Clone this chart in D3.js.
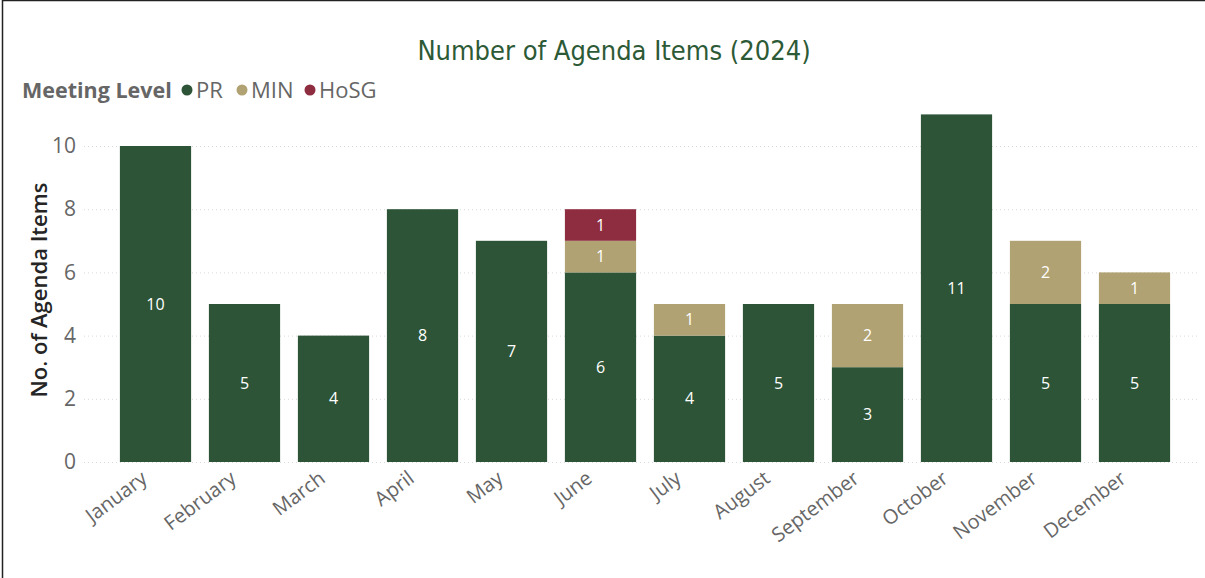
<!DOCTYPE html>
<html>
<head>
<meta charset="utf-8">
<script src="https://cdn.jsdelivr.net/npm/d3@7"></script>
<style>
  body { margin: 0; background: #fff; }
  .container { width: 1205px; height: 578px; }
</style>
</head>
<body>
<div class="container"></div>
<script>
const size = { width: 1205, height: 578 };

const months = ["January", "February", "March", "April", "May", "June",
                "July", "August", "September", "October", "November", "December"];
const levels = ["PR", "MIN", "HoSG"];
const pr   = [10, 5, 4, 8, 7, 6, 4, 5, 3, 11, 5, 5];
const min  = [0, 0, 0, 0, 0, 1, 1, 0, 2, 0, 2, 1];
const hosg = [0, 0, 0, 0, 0, 1, 0, 0, 0, 0, 0, 0];
const yTicks = [0, 2, 4, 6, 8, 10];
const colores = ["#2d5436", "#b0a272", "#8f2d40"];

const font = "'Open Sans', 'Noto Sans', sans-serif";

const svg = d3.select(".container")
              .append("svg")
              .attr("width", size.width)
              .attr("height", size.height);

// marco
svg.append("rect")
   .attr("x", 2.5).attr("y", 0.5)
   .attr("width", size.width + 10).attr("height", size.height + 10)
   .attr("fill", "none").attr("stroke", "#222").attr("stroke-width", 1.5);

const datos = months.map((m, i) => ({ month: m, PR: pr[i], MIN: min[i], HoSG: hosg[i] }));
const series = d3.stack().keys(levels)(datos);

const x = d3.scaleBand().domain(months).range([111, 1179]).paddingInner(0.2).paddingOuter(0.1);
const y = d3.scaleLinear().domain([0, 10]).range([462, 146]);
const color = d3.scaleOrdinal().domain(levels).range(colores);

// grid
svg.append("g")
   .selectAll("line")
   .data(yTicks)
   .join("line")
   .attr("x1", 84).attr("x2", 1200)
   .attr("y1", d => y(d) + 0.5).attr("y2", d => y(d) + 0.5)
   .attr("stroke", "#d9d9d9")
   .attr("stroke-dasharray", "1,3");

// eje y
const ejeY = svg.append("g")
   .attr("transform", "translate(76,0)")
   .call(d3.axisLeft(y).tickValues(yTicks).tickSize(0).tickPadding(0));
ejeY.select(".domain").remove();
ejeY.selectAll("text")
    .attr("font-family", font).attr("font-size", 21).attr("fill", "#666");

svg.append("text")
   .attr("transform", "translate(47,290) rotate(-90)")
   .attr("text-anchor", "middle")
   .attr("font-family", font).attr("font-size", 22).attr("font-weight", 600)
   .attr("fill", "#252525")
   .text("No. of Agenda Items");

// barras
const capas = svg.append("g")
   .selectAll("g")
   .data(series)
   .join("g")
   .attr("fill", d => color(d.key));

capas.selectAll("rect")
   .data(d => d)
   .join("rect")
   .attr("x", d => x(d.data.month))
   .attr("width", x.bandwidth())
   .attr("y", d => y(d[1]))
   .attr("height", d => y(d[0]) - y(d[1]));

capas.selectAll("text")
   .data(d => d.filter(v => v[1] - v[0] > 0))
   .join("text")
   .attr("x", d => x(d.data.month) + x.bandwidth() / 2)
   .attr("y", d => (y(d[0]) + y(d[1])) / 2)
   .attr("dy", "0.35em")
   .attr("text-anchor", "middle")
   .attr("font-family", font).attr("font-size", 16)
   .attr("fill", "#fff")
   .text(d => d[1] - d[0]);

// eje x
svg.append("g")
   .selectAll("text")
   .data(months)
   .join("text")
   .attr("transform", d => `translate(${x(d) + x.bandwidth() / 2 - 7},${481}) rotate(-37)`)
   .attr("text-anchor", "end")
   .attr("font-family", font).attr("font-size", 20)
   .attr("fill", "#666")
   .text(d => d);

// titulo
svg.append("text")
   .attr("x", 614).attr("y", 60)
   .attr("text-anchor", "middle")
   .attr("font-family", "'DejaVu Sans Condensed', 'DejaVu Sans', sans-serif")
   .attr("font-size", 27)
   .attr("fill", "#2d5a36")
   .text("Number of Agenda Items (2024)");

// leyenda
const leyenda = svg.append("g").attr("font-family", font);
leyenda.append("text")
   .attr("x", 22).attr("y", 98)
   .attr("font-size", 21.5).attr("font-weight", 700).attr("fill", "#666")
   .text("Meeting Level");

const posLeyenda = [187, 242, 310];
const items = leyenda.selectAll("g.item")
   .data(levels)
   .join("g")
   .attr("class", "item")
   .attr("transform", (d, i) => `translate(${posLeyenda[i]},90)`);
items.append("circle").attr("r", 5.5).attr("fill", d => color(d));
items.append("text")
   .attr("x", 9).attr("y", 8)
   .attr("font-size", 22).attr("fill", "#666")
   .text(d => d);
</script>
</body>
</html>
